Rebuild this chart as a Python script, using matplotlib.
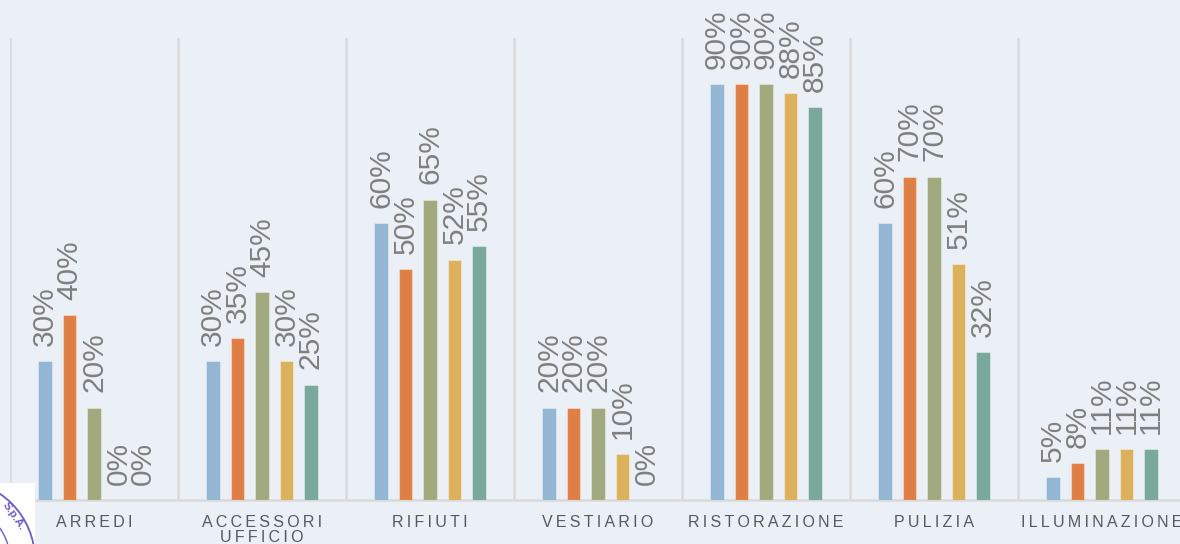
import numpy as np
import matplotlib.pyplot as plt
from matplotlib.patches import Rectangle, Circle

plt.rcParams['font.family'] = ['Liberation Sans', 'DejaVu Sans']

categories = ["ARREDI", "ACCESSORI\nUFFICIO", "RIFIUTI", "VESTIARIO",
              "RISTORAZIONE", "PULIZIA", "ILLUMINAZIONE"]
serie_1 = [30, 30, 60, 20, 90, 60, 5]
serie_2 = [40, 35, 50, 20, 90, 70, 8]
serie_3 = [20, 45, 65, 20, 90, 70, 11]
serie_4 = [0, 30, 52, 10, 88, 51, 11]
serie_5 = [0, 25, 55, 0, 85, 32, 11]
colors = ["#93b6d4", "#e07f45", "#a3a97e", "#dcb15b", "#7aa89b"]

bg = "#ebeff6"
fig = plt.figure(figsize=(11.8, 5.44), dpi=100, facecolor=bg)
# axes runs past the right edge, like the reference crop
ax = fig.add_axes([10 / 1180, 44 / 544, 1176 / 1180, 462 / 544], facecolor=bg)

x = np.arange(len(categories))
pitch = 0.1458
width = 0.08
series = [serie_1, serie_2, serie_3, serie_4, serie_5]
for k, (vals, col) in enumerate(zip(series, colors)):
    pos = x + (k - 2) * pitch
    ax.bar(pos, vals, width=width, color=col, edgecolor=(1, 1, 1, 0.35),
           linewidth=0.8, zorder=3)
    for xp, v in zip(pos, vals):
        ax.annotate(f"{v}%", (xp, v), xytext=(0, 11), textcoords="offset points",
                    rotation=90, ha="center", va="bottom", fontsize=21.5,
                    color="#7f7f7f", zorder=4, annotation_clip=False)

ax.set_xlim(-0.5, len(categories) - 0.5)
ax.set_ylim(0, 100)
ax.set_yticks([])
ax.set_xticks(x)
# letter-spaced category names
spaced = ["\n".join("\u2009".join(w) for w in c.split("\n")) for c in categories]
ax.set_xticklabels(spaced, fontsize=11.5, color="#595959", linespacing=1.0)
ax.tick_params(axis="x", length=0, pad=11)
ax.set_xticks(np.arange(len(categories) + 1) - 0.5, minor=True)
ax.tick_params(axis="x", which="minor", length=0)
ax.grid(axis="x", which="minor", color="#d9d9d9", linewidth=1.8, zorder=0)
ax.grid(axis="x", which="major", visible=False)
for s in ["top", "right", "left"]:
    ax.spines[s].set_visible(False)
ax.spines["bottom"].set_color("#d9d9d9")
ax.spines["bottom"].set_linewidth(1.8)

# stamp corner bottom-left
fig.patches.append(Rectangle((0, 0), 35 / 1180, 61 / 544, transform=fig.transFigure,
                             facecolor="white", edgecolor="none", zorder=10))
fig.patches.append(Circle((-45, -16), 80, transform=None, fill=False,
                          edgecolor="#6a5acd", linewidth=1.3, zorder=11))
fig.patches.append(Circle((-45, -16), 55, transform=None, fill=False,
                          edgecolor="#6a5acd", linewidth=1.0, zorder=11))
fig.text(14 / 1180, 1 - 516 / 544, "S.p.A.", fontsize=8, color="#6a5acd",
         fontweight="bold", rotation=-55, ha="center", va="center", zorder=12)

fig.savefig("out.png", dpi=100, facecolor=bg)
